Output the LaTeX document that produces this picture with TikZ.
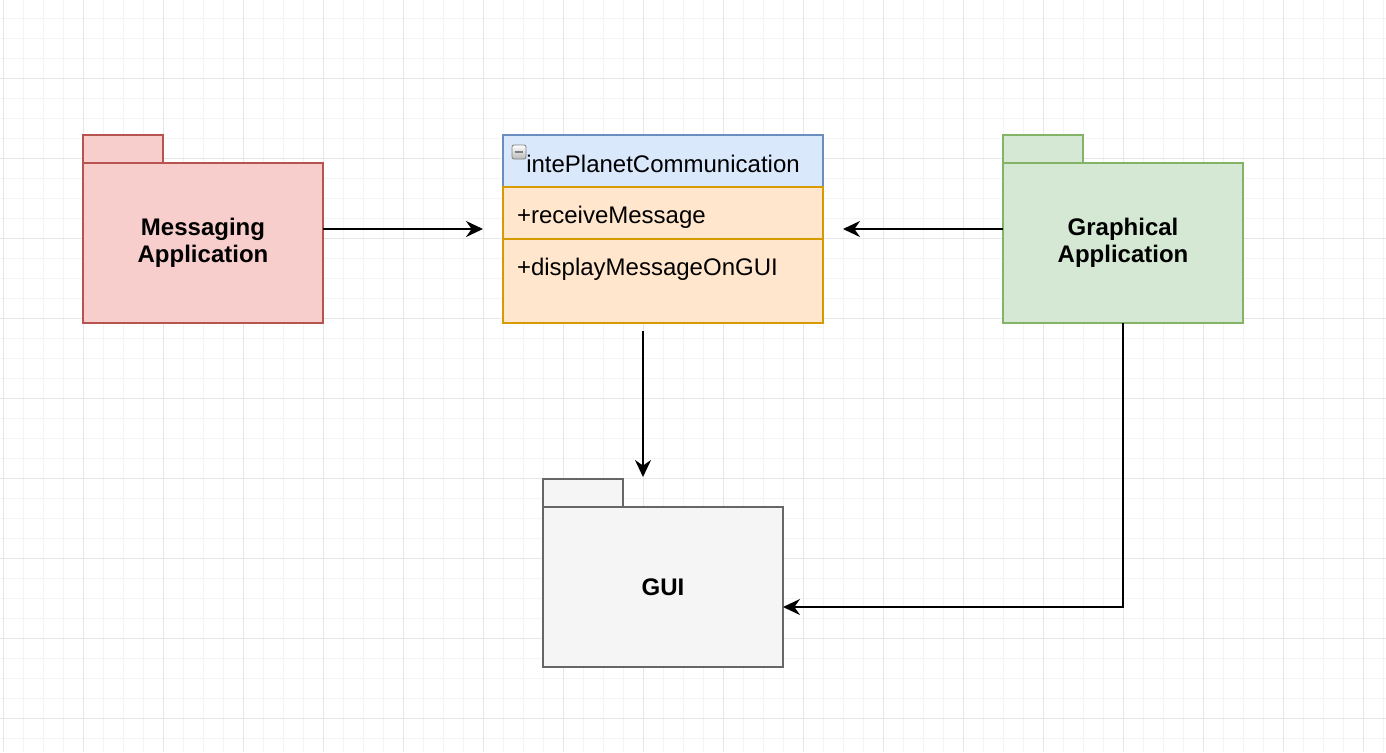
\documentclass[tikz,border=0pt]{standalone}
\usepackage{fontspec}
\setmainfont{Liberation Sans}
\usetikzlibrary{positioning, calc, arrows.meta}

\definecolor{gridminor}{HTML}{F4F4F4}
\definecolor{gridmajor}{HTML}{E6E6E6}
\definecolor{msgfill}{HTML}{F8CECC}
\definecolor{msgline}{HTML}{B85450}
\definecolor{gfxfill}{HTML}{D5E8D4}
\definecolor{gfxline}{HTML}{82B366}
\definecolor{guifill}{HTML}{F5F5F5}
\definecolor{guiline}{HTML}{666666}
\definecolor{headfill}{HTML}{DAE8FC}
\definecolor{headline}{HTML}{6C8EBF}
\definecolor{rowfill}{HTML}{FFE6CC}
\definecolor{rowline}{HTML}{D79B00}

\begin{document}
\begin{tikzpicture}[x=0.5pt, y=-0.5pt,
  every node/.style={font=\fontsize{12}{13.5}\selectfont},
  pkgbody/.style={draw, line width=1pt, outer sep=0pt, minimum width=120pt, minimum height=80pt, align=center, font=\fontsize{12}{13.5}\selectfont\bfseries},
  pkgtab/.style={draw, line width=1pt, outer sep=0pt, minimum width=40pt, minimum height=14pt, inner sep=0pt, anchor=south west},
  classhead/.style={draw=headline, fill=headfill, line width=1pt, outer sep=0pt, minimum width=160pt, minimum height=26pt, text height=11.5pt, text depth=0.5pt},
  classrow/.style={draw=rowline, fill=rowfill, line width=1pt, outer sep=0pt, inner xsep=7pt, inner ysep=7pt, text width=146pt, align=left, text height=11pt, text depth=1pt},
  toggle/.style={draw=gray, top color=white, bottom color=gray!55, rounded corners=1pt, minimum size=7pt, inner sep=0pt,
    path picture={\draw[line width=1.2pt] ([xshift=1.3pt]path picture bounding box.west) -- ([xshift=-1.3pt]path picture bounding box.east);}},
  flow/.style={-{Stealth[length=8.5pt, width=8pt, inset=2.8pt]}, line width=1pt}
]
  \useasboundingbox (0,0) rectangle (1386,752);
  \fill[white] (0,0) rectangle (1386,752);

  % background grid
  \foreach \gx in {3,23,...,1383} \draw[gridminor, line width=0.5pt] (\gx,0) -- (\gx,752);
  \foreach \gy in {18,38,...,738} \draw[gridminor, line width=0.5pt] (0,\gy) -- (1386,\gy);
  \foreach \gx in {3,83,...,1363} \draw[gridmajor, line width=0.5pt] (\gx,0) -- (\gx,752);
  \foreach \gy in {78,158,...,718} \draw[gridmajor, line width=0.5pt] (0,\gy) -- (1386,\gy);

  % packages
  \node[pkgbody, draw=msgline, fill=msgfill] (msgapp) at (203,243) {Messaging\\Application};
  \node[pkgtab, draw=msgline, fill=msgfill] (msgtab) at (msgapp.north west) {};
  \node[pkgbody, draw=gfxline, fill=gfxfill] (gfxapp) at (1123,243) {Graphical\\Application};
  \node[pkgtab, draw=gfxline, fill=gfxfill] (gfxtab) at (gfxapp.north west) {};
  \node[pkgbody, draw=guiline, fill=guifill] (guiapp) at (663,587) {GUI};
  \node[pkgtab, draw=guiline, fill=guifill] (guitab) at (guiapp.north west) {};

  % class
  \node[classhead] (classhead) at (663,161) {intePlanetCommunication};
  \node[toggle] (classtoggle) at ($(classhead.north west)+(16,17)$) {};
  \node[classrow, below=0pt of classhead] (classops) {+receiveMessage};
  \node[classrow, below=0pt of classops, text depth=17pt] (classbody) {+displayMessageOnGUI};

  % connectors
  \draw[flow] ($(msgapp.east)+(0,-14)$) -- ($(msgapp.east -| classops.west)+(-20,-14)$);
  \draw[flow] ($(gfxapp.west)+(0,-14)$) -- ($(gfxapp.west -| classops.east)+(20,-14)$);
  \draw[flow] ($(classbody.south)+(-20,8)$) -- ($(guitab.north -| classbody.south)+(-20,-2)$);
  \draw[flow] (gfxapp.south) |- ($(guiapp.east)+(0,20)$);
\end{tikzpicture}
\end{document}
